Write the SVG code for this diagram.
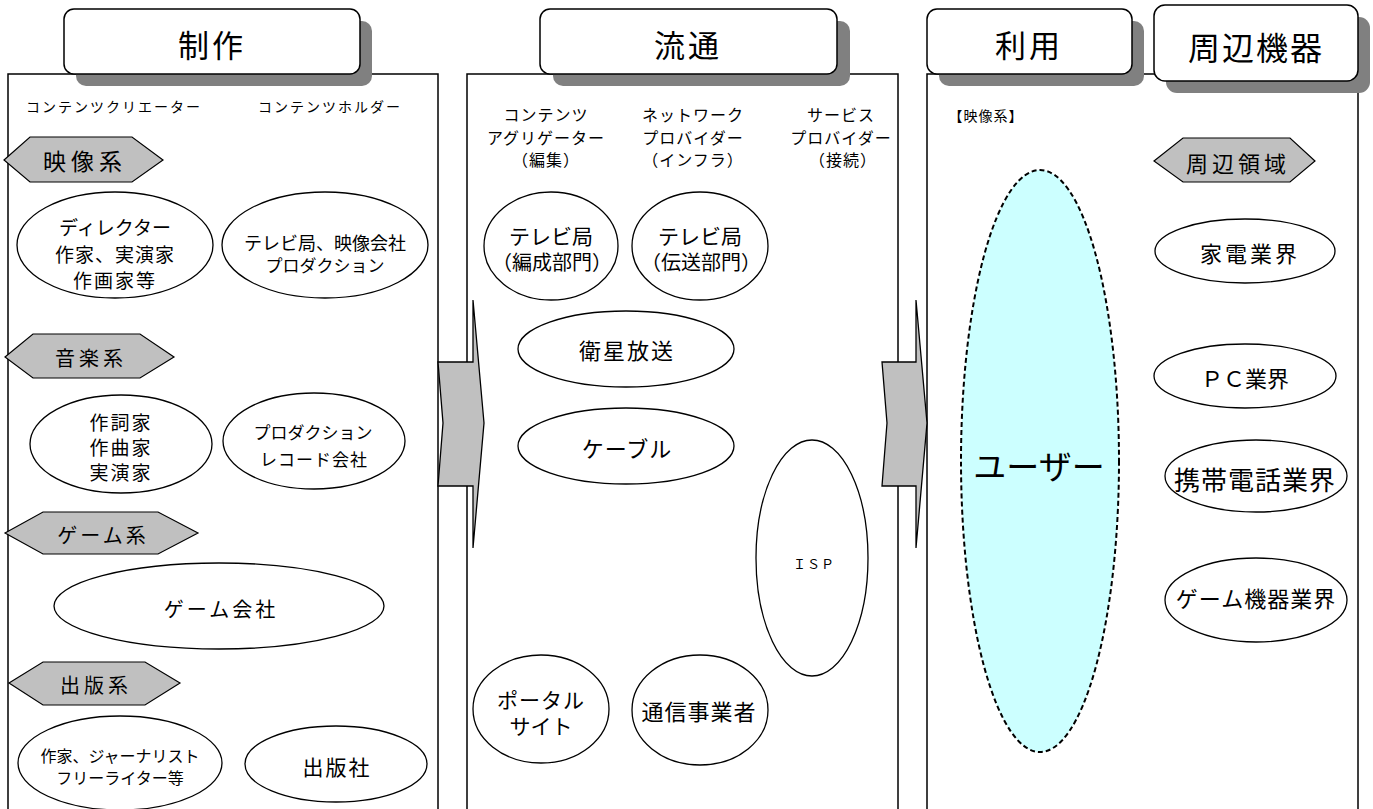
<svg xmlns="http://www.w3.org/2000/svg" width="1373" height="809" viewBox="0 0 1373 809">
<style>
text{font-family:"Noto Sans CJK JP","Noto Sans CJK SC",sans-serif;fill:#000;text-anchor:middle;dominant-baseline:central}
.panel{fill:#fff;stroke:#000;stroke-width:1.5}
.shadow{fill:#808080}
.title{fill:#fff;stroke:#000;stroke-width:1.5}
.tt{font-size:31px;letter-spacing:3px}
.hex{fill:#c0c0c0;stroke:#000;stroke-width:1.2}
.el{fill:#fff;stroke:#000;stroke-width:1.3}
.arrow{fill:#c0c0c0;stroke:#000;stroke-width:1.3;stroke-linejoin:miter}
.hd{font-size:14px;letter-spacing:2px}
.hd2{font-size:16px;letter-spacing:1px}
</style>
<rect width="1373" height="809" fill="#fff"/>
<g id="panels">
<rect class="panel" x="8" y="74" width="430" height="745"/>
<rect class="panel" x="467" y="74" width="431" height="745"/>
<rect class="panel" x="927" y="74" width="431" height="745"/>
</g>
<g id="connectors">
<path class="arrow" d="M438,362 L473,362 L473,300 L484,423 L473,548 L473,486 L438,486 L443,423 Z"/>
<path class="arrow" d="M882,362 L916,362 L916,300 L927,423 L916,548 L916,486 L882,486 L887,423 Z"/>
</g>
<g id="title-seisaku">
<rect class="shadow" x="76" y="21" width="296" height="65" rx="10"/>
<rect class="title" x="64" y="9" width="296" height="65" rx="10"/>
<text class="tt" x="212" y="43">制作</text>
</g>
<g id="title-ryutsu">
<rect class="shadow" x="553" y="21" width="297" height="65" rx="10"/>
<rect class="title" x="540" y="9" width="297" height="65" rx="10"/>
<text class="tt" x="688" y="43">流通</text>
</g>
<g id="title-riyou">
<rect class="shadow" x="939" y="21" width="205" height="65" rx="10"/>
<rect class="title" x="927" y="9" width="205" height="65" rx="10"/>
<text class="tt" x="1029" y="43">利用</text>
</g>
<g id="title-shuhen">
<rect class="shadow" x="1166" y="17" width="204" height="76" rx="11"/>
<rect class="title" x="1154" y="5" width="204" height="76" rx="11"/>
<text class="tt" x="1256" y="46" style="font-size:32px;letter-spacing:2px">周辺機器</text>
</g>
<g id="seisaku-headers">
<text class="hd" x="114" y="106">コンテンツクリエーター</text>
<text class="hd" x="330" y="106">コンテンツホルダー</text>
</g>
<g id="tag-eizou">
<polygon class="hex" points="4,160 30,137 132,137 163,160 132,182 30,182"/>
<text x="85" y="160" style="font-size:23px;letter-spacing:5px">映像系</text>
</g>
<g id="node-director">
<ellipse class="el" cx="115" cy="245" rx="98" ry="53"/>
<text x="115" y="226" style="font-size:19px">ディレクター</text>
<text x="115" y="253" style="font-size:19px;letter-spacing:1px">作家、実演家</text>
<text x="115" y="279" style="font-size:19px;letter-spacing:2px">作画家等</text>
</g>
<g id="node-tv-eizou">
<ellipse class="el" cx="325" cy="245" rx="103" ry="53"/>
<text x="325" y="242" style="font-size:18px">テレビ局、映像会社</text>
<text x="325" y="264" style="font-size:17px">プロダクション</text>
</g>
<g id="tag-ongaku">
<polygon class="hex" points="5,357 33,334 140,334 174,357 140,378 33,378"/>
<text x="91" y="357" style="font-size:20px;letter-spacing:4px">音楽系</text>
</g>
<g id="node-sakushika">
<ellipse class="el" cx="121" cy="444" rx="91" ry="49"/>
<text x="121" y="421" style="font-size:19px;letter-spacing:2px">作詞家</text>
<text x="121" y="446" style="font-size:19px;letter-spacing:2px">作曲家</text>
<text x="121" y="471" style="font-size:19px;letter-spacing:2px">実演家</text>
</g>
<g id="node-record">
<ellipse class="el" cx="314" cy="441" rx="91" ry="48"/>
<text x="313" y="431" style="font-size:17px">プロダクション</text>
<text x="314" y="458" style="font-size:17px;letter-spacing:1px">レコード会社</text>
</g>
<g id="tag-game">
<polygon class="hex" points="5,533 43,512 158,512 198,533 158,554 43,554"/>
<text x="103" y="534" style="font-size:20px;letter-spacing:3px">ゲーム系</text>
</g>
<g id="node-gamekaisha">
<ellipse class="el" cx="219" cy="606" rx="165" ry="43"/>
<text x="221" y="608" style="font-size:20px;letter-spacing:3px">ゲーム会社</text>
</g>
<g id="tag-shuppan">
<polygon class="hex" points="9,683 43,662 145,662 180,683 145,705 43,705"/>
<text x="96" y="684" style="font-size:20px;letter-spacing:4px">出版系</text>
</g>
<g id="node-writer">
<ellipse class="el" cx="120" cy="763" rx="102" ry="47"/>
<text x="120" y="755" style="font-size:16px">作家、ジャーナリスト</text>
<text x="120" y="777" style="font-size:16px">フリーライター等</text>
</g>
<g id="node-shuppansha">
<ellipse class="el" cx="336" cy="764" rx="91" ry="38"/>
<text x="337" y="766" style="font-size:21px;letter-spacing:2px">出版社</text>
</g>
<g id="ryutsu-headers">
<text class="hd2" x="546" y="114">コンテンツ</text>
<text class="hd2" x="546" y="137">アグリゲーター</text>
<text class="hd2" x="546" y="159">（編集）</text>
<text class="hd2" x="693" y="114">ネットワーク</text>
<text class="hd2" x="693" y="137">プロバイダー</text>
<text class="hd2" x="693" y="159">（インフラ）</text>
<text class="hd2" x="841" y="114">サービス</text>
<text class="hd2" x="841" y="137">プロバイダー</text>
<text class="hd2" x="843" y="159">（接続）</text>
</g>
<g id="node-tv-hensei">
<ellipse class="el" cx="551" cy="246" rx="67" ry="54"/>
<text x="551" y="235" style="font-size:21px">テレビ局</text>
<text x="552" y="261" style="font-size:20px">（編成部門）</text>
</g>
<g id="node-tv-densou">
<ellipse class="el" cx="700" cy="246" rx="68" ry="54"/>
<text x="700" y="235" style="font-size:21px">テレビ局</text>
<text x="701" y="261" style="font-size:20px">（伝送部門）</text>
</g>
<g id="node-eisei">
<ellipse class="el" cx="626" cy="349" rx="108" ry="38"/>
<text x="627" y="349" style="font-size:22px;letter-spacing:2px">衛星放送</text>
</g>
<g id="node-cable">
<ellipse class="el" cx="626" cy="446" rx="108" ry="38"/>
<text x="627" y="447" style="font-size:22px;letter-spacing:1px">ケーブル</text>
</g>
<g id="node-isp">
<ellipse class="el" cx="812" cy="558" rx="56" ry="118"/>
<text x="814" y="563" style="font-size:13px;letter-spacing:1px">ＩＳＰ</text>
</g>
<g id="node-portal">
<ellipse class="el" cx="541" cy="709" rx="68" ry="54"/>
<text x="541" y="699" style="font-size:21px;letter-spacing:1px">ポータル</text>
<text x="541" y="725" style="font-size:21px">サイト</text>
</g>
<g id="node-tsushin">
<ellipse class="el" cx="700" cy="710" rx="68" ry="55"/>
<text x="699" y="710" style="font-size:22px;letter-spacing:1px">通信事業者</text>
</g>
<g id="riyou-header">
<text x="986" y="115" style="font-size:14px;letter-spacing:1px">【映像系】</text>
</g>
<g id="node-user">
<ellipse cx="1040" cy="461" rx="79" ry="291" fill="#ccffff" stroke="#000" stroke-width="2" stroke-dasharray="5,3"/>
<text x="1039" y="465" style="font-size:33px">ユーザー</text>
</g>
<g id="tag-shuhen">
<polygon class="hex" points="1154,161 1183,138 1290,138 1315,161 1290,182 1183,182"/>
<text x="1238" y="162" style="font-size:22px;letter-spacing:4px">周辺領域</text>
</g>
<g id="node-kaden">
<ellipse class="el" cx="1245" cy="251" rx="90" ry="32"/>
<text x="1250" y="252" style="font-size:22px;letter-spacing:3px">家電業界</text>
</g>
<g id="node-pc">
<ellipse class="el" cx="1245" cy="376" rx="91" ry="32"/>
<text x="1245" y="377" style="font-size:22px">ＰＣ業界</text>
</g>
<g id="node-keitai">
<ellipse class="el" cx="1256" cy="476" rx="91" ry="36"/>
<text x="1255" y="478" style="font-size:26px;letter-spacing:1px">携帯電話業界</text>
</g>
<g id="node-gamekiki">
<ellipse class="el" cx="1256" cy="600" rx="91" ry="42"/>
<text x="1256" y="597" style="font-size:22px;letter-spacing:1px">ゲーム機器業界</text>
</g>
</svg>
